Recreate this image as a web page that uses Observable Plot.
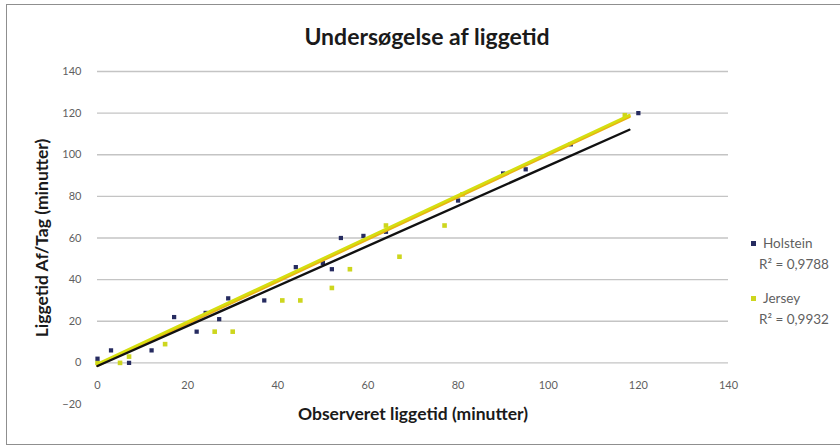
<!DOCTYPE html>
<html><head><meta charset="utf-8">
<script src="https://cdn.jsdelivr.net/npm/d3@7"></script>
<script src="https://cdn.jsdelivr.net/npm/@observablehq/plot@0.6"></script>
<style>
body{margin:0;background:#fff;font-family:Lato,"Open Sans",sans-serif}
#wrap{position:relative;width:840px;height:448px;overflow:hidden;background:#fff}
#frame{position:absolute;left:6px;top:4px;width:840px;height:441px;border:1.5px solid #8f8f8f;box-sizing:border-box}
#title{position:absolute;left:7px;width:840px;top:22px;text-align:center;font-weight:bold;font-size:23px;color:#1a1a1a;line-height:28px}
#chart{position:absolute;left:0;top:0}
.lg{position:absolute;font-size:13.5px;color:#5f5f5f;white-space:nowrap;line-height:16px}
.mk{position:absolute;width:5px;height:5px}
</style></head>
<body>
<div id="wrap">
<div id="frame"></div>
<div id="chart"></div>
<div id="title"></div>
<div id="legend"></div>
</div>
<script>
const titleText = "Undersøgelse af liggetid";
const xTitle = "Observeret liggetid (minutter)";
const yTitle = "Liggetid Af/Tag (minutter)";

const holsteinX = [0, 3, 7, 12, 17, 22, 24, 27, 29, 37, 44, 50, 52, 54, 59, 64, 80, 90, 95, 105, 120];
const holsteinY = [2, 6, 0, 6, 22, 15, 24, 21, 31, 30, 46, 48, 45, 60, 61, 63, 78, 91, 93, 105, 120];
const jerseyX = [0, 5, 7, 15, 26, 30, 41, 45, 52, 56, 64, 67, 77, 81, 117];
const jerseyY = [0, 0, 3, 9, 15, 15, 30, 30, 36, 45, 66, 51, 66, 81, 119];

const holsteinTrendX = [0, 118];
const holsteinTrendY = [-1.5, 112];
const jerseyTrendX = [0, 118];
const jerseyTrendY = [-0.5, 119];

const xTicks = [0, 20, 40, 60, 80, 100, 120, 140];
const yTicks = [-20, 0, 20, 40, 60, 80, 100, 120, 140];
const gridTicks = [0, 20, 40, 60, 80, 100, 120, 140];

const legendNames = ["Holstein", "Jersey"];
const legendR2 = ["R² = 0,9788", "R² = 0,9932"];
const colors = {Holstein: "#262b60", Jersey: "#cdd61e"};

const holstein = holsteinX.map((x, i) => ({x, y: holsteinY[i]}));
const jersey = jerseyX.map((x, i) => ({x, y: jerseyY[i]}));
const hTrend = holsteinTrendX.map((x, i) => ({x, y: holsteinTrendY[i]}));
const jTrend = jerseyTrendX.map((x, i) => ({x, y: jerseyTrendY[i]}));

document.getElementById("title").textContent = titleText;

const chart = Plot.plot({
  width: 840, height: 448,
  marginLeft: 97, marginRight: 112, marginTop: 71, marginBottom: 44,
  x: {domain: [0, 140], axis: null},
  y: {domain: [-20, 140]},
  style: {fontFamily: "Lato, 'Open Sans', sans-serif", background: "transparent", overflow: "visible"},
  marks: [
    Plot.ruleY(gridTicks, {stroke: "#c4c4c4", strokeWidth: 1.3}),
    Plot.axisY(yTicks, {tickSize: 0, tickPadding: 16, label: null, fontSize: 11, color: "#5f5f5f"}),
    Plot.text(xTicks, {x: d => d, y: 0, dy: 23, fill: "#5f5f5f", fontSize: 11}),
    Plot.text([xTitle], {frameAnchor: "bottom", textAnchor: "middle", dy: 15, fontSize: 17.5, fontWeight: "bold", fill: "#1a1a1a"}),
    Plot.text([yTitle], {frameAnchor: "left", textAnchor: "middle", dx: -55, rotate: -90, fontSize: 17.5, fontWeight: "bold", fill: "#1a1a1a"}),
    Plot.dot(jersey, {x: "x", y: "y", symbol: "square", r: 2.6, fill: colors.Jersey}),
    Plot.dot(holstein, {x: "x", y: "y", symbol: "square", r: 2.4, fill: colors.Holstein}),
    Plot.line(jTrend, {x: "x", y: "y", stroke: "#e9b212", strokeWidth: 3, dy: 1.5}),
    Plot.line(jTrend, {x: "x", y: "y", stroke: "#d5de10", strokeWidth: 2.6}),
    Plot.line(hTrend, {x: "x", y: "y", stroke: "#111111", strokeWidth: 2.4})
  ]
});
document.getElementById("chart").appendChild(chart);

const lg = document.getElementById("legend");
const tops = [235, 290];
legendNames.forEach((n, i) => {
  const mk = document.createElement("div");
  mk.className = "mk";
  mk.style.left = "751px"; mk.style.top = (tops[i] + 6) + "px";
  mk.style.background = colors[n];
  lg.appendChild(mk);
  const t = document.createElement("div");
  t.className = "lg"; t.textContent = n;
  t.style.left = "763px"; t.style.top = tops[i] + "px";
  lg.appendChild(t);
  const r = document.createElement("div");
  r.className = "lg"; r.textContent = legendR2[i];
  r.style.left = "759px"; r.style.top = (tops[i] + 21) + "px";
  lg.appendChild(r);
});
</script>
</body></html>
